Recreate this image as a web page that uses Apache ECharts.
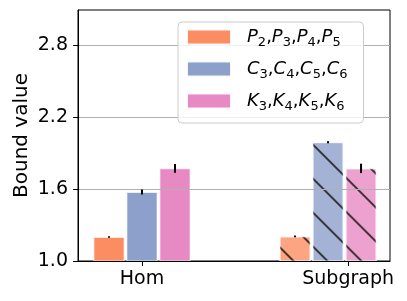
<!DOCTYPE html>
<html><head><meta charset="utf-8">
<script src="https://cdn.jsdelivr.net/npm/echarts@6/dist/echarts.min.js"></script>
<style>html,body{margin:0;padding:0;background:#fff}#c{width:407px;height:301px}</style>
</head><body><div id="c"></div>
<script>
// ---- data ----
const groupPos = [0, 1];
const xTickPos = [0, 1.108];
const xTickLabels = ['Hom', 'Subgraph'];
const seriesNames = ['P_2,P_3,P_4,P_5', 'C_3,C_4,C_5,C_6', 'K_3,K_4,K_5,K_6'];
const pathValues = [1.200, 1.205];
const cycleValues = [1.575, 1.990];
const cliqueValues = [1.772, 1.772];
const pathErr = [0.003, 0.003];
const cycleErr = [0.016, 0.005];
const cliqueErr = [0.032, 0.035];
const yTicks = [1.0, 1.6, 2.2, 2.8];

// ---- styles ----
const colors = ['#fc8d62', '#8da0cb', '#e78ac3'];
const faded = ['rgba(252,141,98,0.8)', 'rgba(141,160,203,0.8)', 'rgba(231,138,195,0.8)'];
const BAR_W = 31, BAR_GAP = 2;
const FONT = 'DejaVu Sans';
const hatch = {
  symbol: 'rect', symbolSize: 1, color: 'rgba(25,25,25,0.8)',
  dashArrayX: [1, 0], dashArrayY: [2, 22], rotation: Math.PI / 4
};

const values = [pathValues, cycleValues, cliqueValues];
const errs = [pathErr, cycleErr, cliqueErr];

const barSeries = values.map((vals, k) => ({
  type: 'bar',
  name: seriesNames[k],
  barWidth: BAR_W,
  barGap: (BAR_GAP / BAR_W * 100) + '%',
  itemStyle: { color: colors[k], borderColor: 'rgba(255,255,255,0.9)', borderWidth: 0.8 },
  data: groupPos.map((x, i) => i === 1
    ? { value: [x, vals[i]], itemStyle: { color: faded[k], decal: hatch } }
    : { value: [x, vals[i]] }),
  z: 2
}));

const errData = [];
values.forEach((vals, k) => groupPos.forEach((x, i) => errData.push([x, vals[i], errs[k][i], k])));

const errSeries = {
  type: 'custom',
  name: 'err',
  z: 6,
  silent: true,
  encode: { x: 0, y: 1 },
  data: errData,
  renderItem(params, api) {
    const x = api.value(0), v = api.value(1), e = api.value(2), k = api.value(3);
    const p0 = api.coord([x, v - e]);
    const p1 = api.coord([x, v + e]);
    const off = (k - 1) * (BAR_W + BAR_GAP);
    return {
      type: 'line',
      shape: { x1: p0[0] + off, y1: p0[1] + 0.5, x2: p0[0] + off, y2: p1[1] - 0.5 },
      style: { stroke: '#000', lineWidth: 2 }
    };
  }
};

function legendFmt(name) {
  return '{sp|}' + name.split(',').map(t => {
    const [b, s] = t.split('_');
    return '{i|' + b + '}{s|' + s + '}';
  }).join('{c|,}');
}

const chart = echarts.init(document.getElementById('c'), null, { renderer: 'canvas' });
chart.setOption({
  animation: false,
  grid: {
    left: 78, right: 17, top: 10, bottom: 40, outerBoundsMode: 'none', containLabel: false,
    show: true, borderColor: '#000', borderWidth: 1, backgroundColor: 'transparent'
  },
  legend: {
    data: seriesNames,
    orient: 'vertical',
    left: 178, top: 22,
    padding: [6, 16, 10, 8],
    itemWidth: 44, itemHeight: 15, itemGap: 11,
    icon: 'rect',
    backgroundColor: 'rgba(255,255,255,0.8)',
    borderColor: '#cccccc', borderWidth: 1, borderRadius: 4,
    formatter: legendFmt,
    textStyle: {
      fontFamily: FONT, fontSize: 18, color: '#000',
      rich: {
        sp: { width: 11, lineHeight: 24 },
        i: { fontFamily: FONT, fontStyle: 'italic', fontSize: 18, lineHeight: 24, color: '#000' },
        c: { fontFamily: FONT, fontSize: 18, lineHeight: 24, color: '#000' },
        s: { fontFamily: FONT, fontSize: 13, lineHeight: 13, color: '#000', verticalAlign: 'bottom' }
      }
    },
    z: 4
  },
  xAxis: {
    type: 'value', min: -0.344, max: 1.333,
    axisLine: { show: true, onZero: false, lineStyle: { color: '#000', width: 1 } },
    axisTick: { show: true, customValues: xTickPos, length: 5, lineStyle: { color: '#000' } },
    axisLabel: {
      customValues: xTickPos, margin: 9, fontFamily: FONT, fontSize: 19, color: '#000',
      formatter: v => { const i = xTickPos.findIndex(p => Math.abs(p - v) < 1e-6); return i >= 0 ? xTickLabels[i] : ''; }
    },
    splitLine: { show: false },
    z: 5
  },
  yAxis: {
    type: 'value', min: 1.0, max: 3.092,
    name: 'Bound value', nameLocation: 'middle', nameGap: 46, nameRotate: 90, nameMoveOverlap: false,
    nameTextStyle: { fontFamily: FONT, fontSize: 20, color: '#000' },
    axisLine: { show: true, onZero: false, lineStyle: { color: '#000', width: 1 } },
    axisTick: { show: true, customValues: yTicks, length: 5, lineStyle: { color: '#000' } },
    axisLabel: {
      customValues: yTicks, margin: 10, fontFamily: FONT, fontSize: 19, color: '#000',
      formatter: v => v.toFixed(1)
    },
    splitLine: { show: true, lineStyle: { color: '#b0b0b0', width: 1 } },
    z: 3
  },
  series: [...barSeries, errSeries]
});
</script>
</body></html>
